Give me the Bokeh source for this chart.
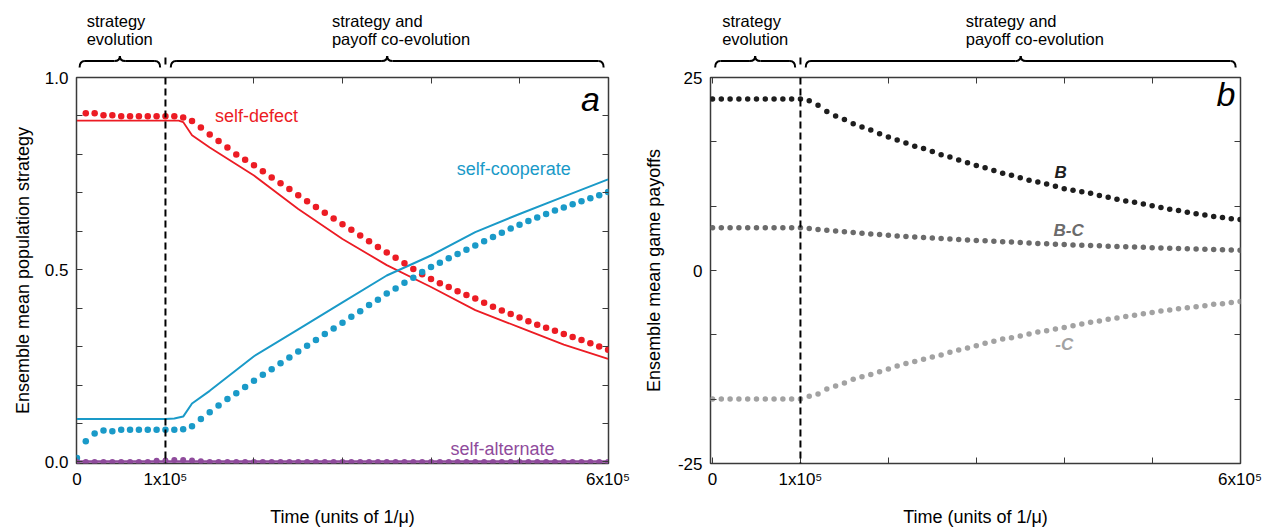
from bokeh.plotting import figure
from bokeh.models import Range1d, LinearAxis, FixedTicker, Span, CustomLabelingPolicy
from bokeh.layouts import row, column
from bokeh.core.properties import value
from bokeh.embed import file_html
from bokeh.resources import INLINE

NAN = float("nan")

# time in thousands (units of 1/mu), sampling grid of the dotted series
TIME = [0, 10, 20, 30, 40, 50, 60, 70, 80, 90, 100, 110, 120, 130, 140, 150, 160, 170, 180, 190,
        200, 210, 220, 230, 240, 250, 260, 270, 280, 290, 300, 310, 320, 330, 340, 350, 360, 370,
        380, 390, 400, 410, 420, 430, 440, 450, 460, 470, 480, 490, 500, 510, 520, 530, 540, 550,
        560, 570, 580, 590, 600]

# ---- panel a : strategies ----
DEFECT_DOTS = [NAN, 0.907, 0.907, 0.902, 0.902, 0.899, 0.899, 0.899, 0.899, 0.899, 0.899, 0.899,
               0.896, 0.887, 0.870, 0.852, 0.835, 0.818, 0.800, 0.786, 0.772, 0.756, 0.740, 0.725,
               0.710, 0.694, 0.678, 0.663, 0.648, 0.633, 0.618, 0.604, 0.589, 0.574, 0.559, 0.545,
               0.531, 0.517, 0.502, 0.488, 0.476, 0.465, 0.455, 0.444, 0.434, 0.425, 0.414, 0.404,
               0.394, 0.385, 0.376, 0.366, 0.357, 0.349, 0.341, 0.333, 0.325, 0.317, 0.309, 0.300,
               0.292]
COOP_DOTS = [0.010, 0.054, 0.074, 0.082, 0.080, 0.084, 0.084, 0.084, 0.084, 0.084, 0.084, 0.084,
             0.085, 0.093, 0.112, 0.129, 0.147, 0.164, 0.179, 0.195, 0.211, 0.227, 0.241, 0.257,
             0.272, 0.287, 0.302, 0.317, 0.333, 0.347, 0.362, 0.378, 0.392, 0.408, 0.422, 0.438,
             0.451, 0.466, 0.479, 0.494, 0.507, 0.518, 0.530, 0.541, 0.552, 0.563, 0.574, 0.585,
             0.596, 0.607, 0.617, 0.627, 0.636, 0.645, 0.654, 0.662, 0.670, 0.678, 0.686, 0.694,
             0.702]
ALT_DOTS = [0.0, 0.0, 0.0, 0.0, 0.0, 0.0, 0.0, 0.0, 0.0, 0.003, 0.004, 0.005, 0.005, 0.004, 0.002,
            0.0, 0.0, 0.0, 0.0, 0.0, 0.0, 0.0, 0.0, 0.0, 0.0, 0.0, 0.0, 0.0, 0.0, 0.0, 0.0, 0.0,
            0.0, 0.0, 0.0, 0.0, 0.0, 0.0, 0.0, 0.0, 0.0, 0.0, 0.0, 0.0, 0.0, 0.0, 0.0, 0.0, 0.0,
            0.0, 0.0, 0.0, 0.0, 0.0, 0.0, 0.0, 0.0, 0.0, 0.0, 0.0, 0.0]

DEFECT_LINE_T = [0, 100, 115, 120, 130, 150, 200, 250, 300, 350, 400, 450, 500, 550, 600]
DEFECT_LINE = [0.888, 0.888, 0.888, 0.884, 0.850, 0.818, 0.745, 0.658, 0.580, 0.512, 0.455, 0.395,
               0.350, 0.305, 0.268]
COOP_LINE_T = [0, 100, 110, 120, 130, 150, 200, 250, 300, 350, 400, 450, 500, 550, 600]
COOP_LINE = [0.112, 0.112, 0.113, 0.118, 0.152, 0.185, 0.275, 0.345, 0.415, 0.485, 0.537, 0.598,
             0.645, 0.690, 0.735]
ALT_LINE_T = [0, 600]
ALT_LINE = [0.001, 0.001]

# ---- panel b : payoffs ----
B_DOTS = [22.2, 22.2, 22.2, 22.2, 22.2, 22.2, 22.2, 22.2, 22.2, 22.2, 22.2, 22.0, 21.4, 20.6, 20.0,
          19.55, 19.0, 18.6, 18.2, 17.7, 17.3, 16.9, 16.5, 16.1, 15.8, 15.4, 15.0, 14.7, 14.3,
          13.95, 13.6, 13.3, 12.95, 12.6, 12.35, 12.0, 11.7, 11.45, 11.2, 10.9, 10.6, 10.4, 10.2,
          10.0, 9.7, 9.5, 9.24, 9.0, 8.85, 8.63, 8.4, 8.16, 7.94, 7.77, 7.55, 7.34, 7.2, 7.0, 6.87,
          6.7, 6.6]
BC_DOTS = [5.55, 5.55, 5.55, 5.55, 5.55, 5.55, 5.55, 5.55, 5.55, 5.55, 5.55, 5.45, 5.3, 5.22, 5.12,
           5.02, 4.92, 4.83, 4.74, 4.66, 4.56, 4.48, 4.41, 4.34, 4.27, 4.2, 4.13, 4.07, 4.01, 3.95,
           3.89, 3.84, 3.79, 3.74, 3.69, 3.62, 3.56, 3.51, 3.46, 3.41, 3.36, 3.31, 3.27, 3.23,
           3.19, 3.15, 3.11, 3.07, 3.04, 3.0, 2.96, 2.93, 2.89, 2.86, 2.82, 2.79, 2.76, 2.72, 2.69,
           2.65, 2.62]
NEGC_DOTS = [-16.65, -16.65, -16.65, -16.65, -16.65, -16.65, -16.65, -16.65, -16.65, -16.65,
             -16.65, -16.3, -16.0, -15.35, -14.95, -14.56, -14.1, -13.77, -13.46, -13.1, -12.76,
             -12.37, -12.06, -11.8, -11.5, -11.2, -10.96, -10.6, -10.3, -10.04, -9.74, -9.43,
             -9.17, -8.86, -8.7, -8.5, -8.24, -7.98, -7.8, -7.58, -7.37, -7.15, -6.93, -6.71,
             -6.53, -6.31, -6.14, -5.96, -5.79, -5.61, -5.44, -5.26, -5.13, -4.96, -4.83, -4.69,
             -4.56, -4.38, -4.3, -4.16, -4.03]

# ---- ticks and annotations ----
X_MAJOR = [0, 100, 600]
X_MINOR = [200, 300, 400, 500]
X_LABELS = {0: "0", 100: "1x10\u2075", 600: "6x10\u2075"}
YA_MAJOR = [0.0, 0.5, 1.0]
YA_MINOR = [0.1, 0.2, 0.3, 0.4, 0.6, 0.7, 0.8, 0.9]
YA_LABELS = {0.0: "0.0", 0.5: "0.5", 1.0: "1.0"}
YB_MAJOR = [-25, 0, 25]
YB_MINOR = [-16.667, -8.333, 8.333, 16.667]
YB_LABELS = {-25: "-25", 0: "0", 25: "25"}
SWITCH_T = 100
BRACES = [(3, 94), (106, 595)]
PHASES = [(11, ["strategy", "evolution"]), (288, ["strategy and", "payoff co-evolution"])]

RED = "#EC1C24"
BLUE = "#1A9AC8"
PURPLE = "#8F4B9C"
B_COL = "#1E1E1E"
BC_COL = "#6B6B6B"
C_COL = "#A2A2A2"
FRAME = "#3A3A3A"
FONT = "Liberation Sans"

HEADER_H = 68
MAIN_H = 461
TOP_B = 9
BOTTOM_B = 66


def make_header(xr, width, left, right):
    h = figure(width=width, height=HEADER_H, x_range=xr, y_range=Range1d(HEADER_H, 0),
               toolbar_location=None, output_backend="svg", x_axis_location=None,
               y_axis_location=None, min_border_left=left, min_border_right=right,
               min_border_top=0, min_border_bottom=0)
    h.grid.visible = False
    h.outline_line_color = None
    r = 6.0
    y_end, y_flat, y_tip = 67, 60.5, 55.5
    for x0, x1 in BRACES:
        xm = (x0 + x1) / 2.0
        h.quadratic(x0=[x0, xm - r, xm, x1 - r], y0=[y_end, y_flat, y_tip, y_flat],
                    x1=[x0 + r, xm, xm + r, x1], y1=[y_flat, y_tip, y_flat, y_end],
                    cx=[x0, xm, xm, x1], cy=[y_flat] * 4,
                    line_color="black", line_width=2)
        h.segment(x0=[x0 + r, xm + r], y0=[y_flat, y_flat], x1=[xm - r, x1 - r],
                  y1=[y_flat, y_flat], line_color="black", line_width=2)
    for xt, lines in PHASES:
        h.text(x=[xt, xt], y=[20, 38], text=lines, text_font=value(FONT),
               text_font_size="16.5px", text_baseline="middle", text_align="left",
               text_color="black")
    h.segment(x0=[SWITCH_T], y0=[57], x1=[SWITCH_T], y1=[HEADER_H], line_color="black",
              line_width=2, line_dash="7 4")
    return h


def style_main(p, ymajor, yminor, ylabels, ytitle, y_title_standoff):
    p.grid.visible = False
    p.outline_line_color = FRAME
    p.outline_line_width = 1.5
    xb = p.below[0]
    yl = p.left[0]
    xb.ticker = FixedTicker(ticks=X_MAJOR, minor_ticks=X_MINOR)
    xb.major_label_overrides = X_LABELS
    yl.ticker = FixedTicker(ticks=ymajor, minor_ticks=yminor)
    yl.major_label_overrides = ylabels
    xb.axis_label = "Time (units of 1/\u03bc)"
    yl.axis_label = ytitle
    hide = "return new Set()"
    extra_top = LinearAxis(ticker=FixedTicker(ticks=X_MAJOR, minor_ticks=X_MINOR),
                           major_label_policy=CustomLabelingPolicy(code=hide))
    extra_right = LinearAxis(ticker=FixedTicker(ticks=ymajor, minor_ticks=yminor),
                             major_label_policy=CustomLabelingPolicy(code=hide))
    p.add_layout(extra_top, "above")
    p.add_layout(extra_right, "right")
    for ax in (xb, yl, extra_top, extra_right):
        ax.axis_line_color = None
        ax.major_tick_in = 6
        ax.major_tick_out = 0
        ax.minor_tick_in = 6
        ax.minor_tick_out = 0
        ax.major_tick_line_color = FRAME
        ax.minor_tick_line_color = FRAME
        ax.major_label_text_font = FONT
        ax.major_label_text_font_size = "17px"
        ax.major_label_text_color = "black"
        ax.axis_label_text_font = FONT
        ax.axis_label_text_font_size = "18px"
        ax.axis_label_text_font_style = "normal"
        ax.axis_label_text_color = "black"
    xb.major_label_standoff = 6
    xb.axis_label_standoff = 15
    yl.major_label_standoff = 8
    yl.axis_label_standoff = y_title_standoff
    for ax in (extra_top, extra_right):
        ax.major_label_text_font_size = "1px"
        ax.major_label_standoff = 0
        ax.axis_label_standoff = 0
    p.add_layout(Span(location=SWITCH_T, dimension="height", line_color="black",
                      line_width=2, line_dash="7 4"))


# ---------------- panel a ----------------
WA, LA, RA = 640, 76, 32
xr_a = Range1d(-0.5, 600.5)
ha = make_header(xr_a, WA, LA, RA)
pa = figure(width=WA, height=MAIN_H, x_range=xr_a, y_range=Range1d(-0.004, 1.0),
            toolbar_location=None, output_backend="svg", min_border_left=LA,
            min_border_right=RA, min_border_top=TOP_B, min_border_bottom=BOTTOM_B)
style_main(pa, YA_MAJOR, YA_MINOR, YA_LABELS, "Ensemble mean population strategy", 9)
pa.line(DEFECT_LINE_T, DEFECT_LINE, line_color=RED, line_width=1.8)
pa.line(COOP_LINE_T, COOP_LINE, line_color=BLUE, line_width=2)
pa.line(ALT_LINE_T, ALT_LINE, line_color=PURPLE, line_width=2.5)
pa.scatter(TIME, DEFECT_DOTS, size=6.5, fill_color=RED, line_color=None)
pa.scatter(TIME, COOP_DOTS, size=6.5, fill_color=BLUE, line_color=None)
pa.scatter(TIME, ALT_DOTS, size=6, fill_color=PURPLE, line_color=None)
for x, y, t, c in [(156, 0.900, "self-defect", RED), (429, 0.763, "self-cooperate", BLUE),
                   (422, 0.035, "self-alternate", PURPLE)]:
    pa.text(x=[x], y=[y], text=[t], text_color=c, text_font=value(FONT),
            text_font_size="18px", text_baseline="middle", text_align="left")
pa.text(x=[580], y=[0.943], text=["a"], text_font=value(FONT), text_font_size="34px",
        text_font_style="italic", text_align="center", text_baseline="middle",
        text_color="black")

# ---------------- panel b ----------------
WB, LB, RB = 627, 68, 27
xr_b = Range1d(-2.3, 600.5)
hb = make_header(xr_b, WB, LB, RB)
pb = figure(width=WB, height=MAIN_H, x_range=xr_b, y_range=Range1d(-25, 25),
            toolbar_location=None, output_backend="svg", min_border_left=LB,
            min_border_right=RB, min_border_top=TOP_B, min_border_bottom=BOTTOM_B)
style_main(pb, YB_MAJOR, YB_MINOR, YB_LABELS, "Ensemble mean game payoffs", 11)
pb.scatter(TIME, B_DOTS, size=5.5, fill_color=B_COL, line_color=None)
pb.scatter(TIME, BC_DOTS, size=5.5, fill_color=BC_COL, line_color=None)
pb.scatter(TIME, NEGC_DOTS, size=5.5, fill_color=C_COL, line_color=None)
for x, y, t, c in [(396, 12.7, "B", B_COL), (405, 5.2, "B-C", BC_COL), (400, -9.6, "-C", C_COL)]:
    pb.text(x=[x], y=[y], text=[t], text_color=c, text_font=value(FONT),
            text_font_size="17px", text_font_style="bold italic", text_baseline="middle",
            text_align="center")
pb.text(x=[584], y=[22.8], text=["b"], text_font=value(FONT), text_font_size="34px",
        text_font_style="italic", text_align="center", text_baseline="middle",
        text_color="black")

layout = row(column(ha, pa, spacing=0), column(hb, pb, spacing=0), spacing=0)
open("out.html", "w").write(file_html(layout, INLINE))
